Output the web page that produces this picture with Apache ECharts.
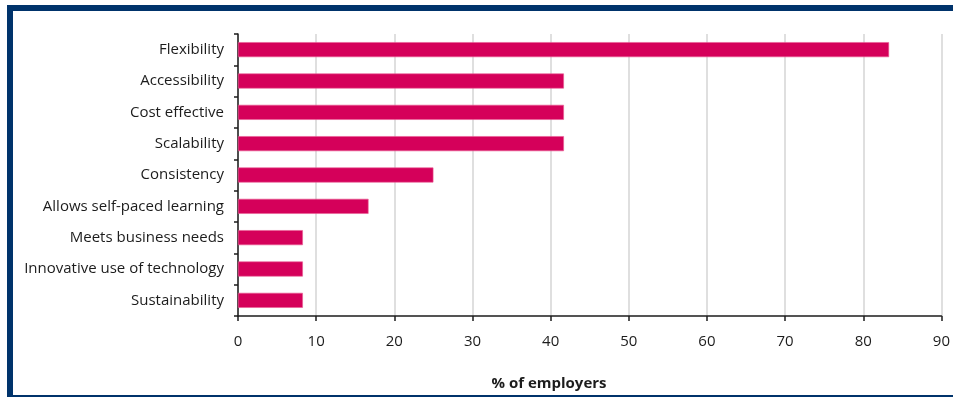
<!DOCTYPE html>
<html>
<head>
<meta charset="utf-8">
<script src="https://cdn.jsdelivr.net/npm/echarts@6/dist/echarts.min.js"></script>
<style>
  html, body { margin: 0; padding: 0; background: #fff; }
  #chart { width: 953px; height: 397px; }
</style>
</head>
<body>
<div id="chart"></div>
<script>
// Reasons employers give for choosing e-learning (top to bottom)
const categories = [
  'Flexibility',
  'Accessibility',
  'Cost effective',
  'Scalability',
  'Consistency',
  'Allows self-paced learning',
  'Meets business needs',
  'Innovative use of technology',
  'Sustainability'
];
const percentEmployers = [83.3, 41.7, 41.7, 41.7, 25, 16.7, 8.3, 8.3, 8.3];
const xTicks = [0, 10, 20, 30, 40, 50, 60, 70, 80, 90];
const axisTitle = '% of employers';

const FONT = '"Open Sans", "Noto Sans", sans-serif';
const NAVY = '#00336b';
const INK = '#1c1c1c';

const chart = echarts.init(document.getElementById('chart'), null, { renderer: 'canvas' });

chart.setOption({
  animation: false,
  backgroundColor: '#ffffff',
  grid: { left: 238, right: 9, top: 34, bottom: 81, containLabel: false },
  xAxis: {
    type: 'value',
    min: xTicks[0],
    max: xTicks[xTicks.length - 1],
    interval: xTicks[1] - xTicks[0],
    axisLine: { show: true, lineStyle: { color: INK, width: 1.5 } },
    axisTick: { show: true, length: 5, lineStyle: { color: INK, width: 1.5 } },
    axisLabel: { color: INK, fontFamily: FONT, fontSize: 15, margin: 18 },
    splitLine: { show: true, lineStyle: { color: '#d4d4d4', width: 1.5 } }
  },
  yAxis: {
    type: 'category',
    inverse: true,
    data: categories,
    axisLine: { show: true, lineStyle: { color: INK, width: 1.5 } },
    axisTick: { show: true, length: 4, lineStyle: { color: INK, width: 1.5 } },
    axisLabel: { color: INK, fontFamily: FONT, fontSize: 15, margin: 14 },
    splitLine: { show: false }
  },
  series: [{
    type: 'bar',
    data: percentEmployers,
    barWidth: 15,
    itemStyle: { color: '#d5005a', borderColor: '#ea5a92', borderWidth: 0.6 }
  }],
  graphic: [
    // frame: top and left bars, thin bottom rule
    { type: 'rect', shape: { x: 7, y: 5, width: 946, height: 6 }, style: { fill: NAVY }, silent: true },
    { type: 'rect', shape: { x: 7, y: 5, width: 6, height: 392 }, style: { fill: NAVY }, silent: true },
    { type: 'rect', shape: { x: 7, y: 395, width: 946, height: 2 }, style: { fill: NAVY }, silent: true },
    {
      type: 'text', x: 549, y: 384,
      style: {
        text: axisTitle, fill: INK, font: 'bold 15px ' + FONT,
        textAlign: 'center', textVerticalAlign: 'middle'
      },
      silent: true
    }
  ]
});
</script>
</body>
</html>
